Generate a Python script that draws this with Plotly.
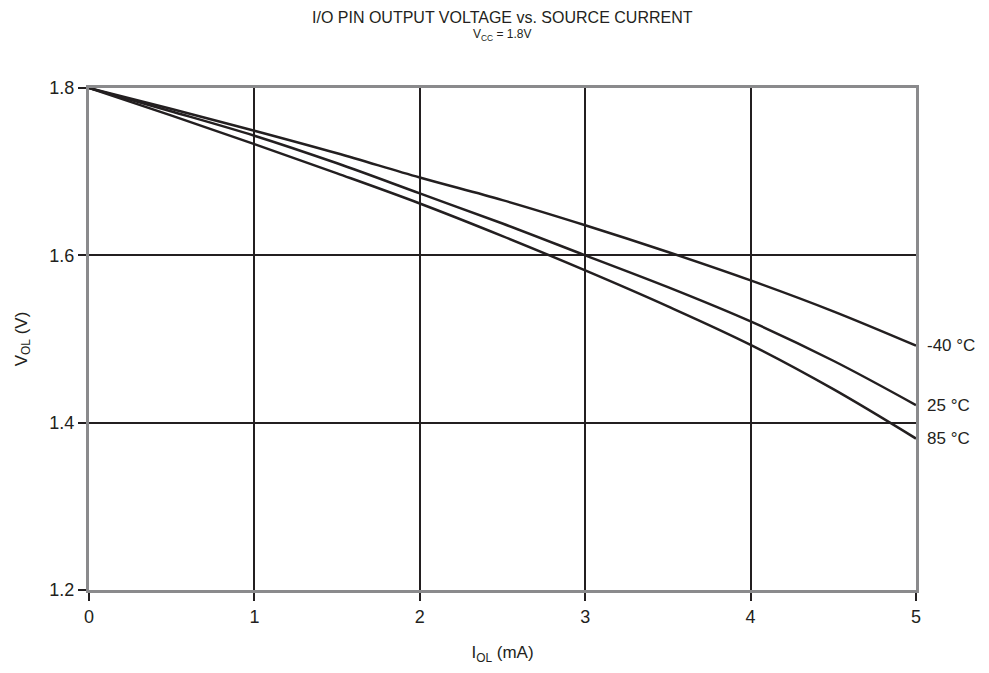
import plotly.graph_objects as go

# Source current (mA)
i_ol = [0, 0.5, 1, 1.5, 2, 2.5, 3, 3.5, 4, 4.5, 5]

# Output voltage (V) per temperature
v_m40 = [1.800, 1.775, 1.749, 1.722, 1.693, 1.666, 1.636, 1.604, 1.570, 1.533, 1.492]
v_25 = [1.800, 1.772, 1.743, 1.710, 1.674, 1.638, 1.600, 1.562, 1.521, 1.474, 1.421]
v_85 = [1.800, 1.767, 1.733, 1.698, 1.662, 1.623, 1.582, 1.539, 1.493, 1.440, 1.381]

labels = ["-40 °C", "25 °C", "85 °C"]
series = [v_m40, v_25, v_85]

ink = "#231f20"
font = "Liberation Sans, Arial, sans-serif"

fig = go.Figure()
for name, v in zip(labels, series):
    fig.add_trace(go.Scatter(x=i_ol, y=v, mode="lines", name=name,
                             line=dict(color=ink, width=2.5, shape="spline"),
                             showlegend=False))
    fig.add_annotation(x=5, y=v[-1], text=name, xref="x", yref="y",
                       xanchor="left", xshift=9, showarrow=False,
                       font=dict(family=font, size=17, color=ink))

fig.add_annotation(text="I/O PIN OUTPUT VOLTAGE vs. SOURCE CURRENT", x=0.5, y=1.14,
                   xref="paper", yref="paper", yanchor="middle", showarrow=False,
                   font=dict(family=font, size=16, color=ink))
fig.add_annotation(text="V<sub>CC</sub> = 1.8V", x=0.5, y=1.105,
                   xref="paper", yref="paper", yanchor="middle", showarrow=False,
                   font=dict(family=font, size=12, color=ink))

axis_style = dict(showgrid=True, gridcolor=ink, gridwidth=2,
                  showline=True, linecolor="#8a8a8c", linewidth=3, mirror=True,
                  ticks="outside", ticklen=8, tickwidth=1.5, tickcolor=ink,
                  zeroline=False, automargin=False,
                  tickfont=dict(family=font, size=18, color=ink))

fig.update_layout(
    width=973, height=657,
    margin=dict(l=81, r=65, t=80, b=75),
    plot_bgcolor="white", paper_bgcolor="white",
    font=dict(family=font, color=ink, size=17),
    xaxis=dict(range=[0, 5], dtick=1,
               title=dict(text="I<sub>OL</sub> (mA)", standoff=22,
                          font=dict(family=font, size=17, color=ink)),
               **axis_style),
    yaxis=dict(range=[1.2, 1.8], dtick=0.2, tickformat=".1f",
               title=dict(text="V<sub>OL</sub> (V)", standoff=18,
                          font=dict(family=font, size=17, color=ink)),
               **axis_style),
)

fig.write_html("out.html")
